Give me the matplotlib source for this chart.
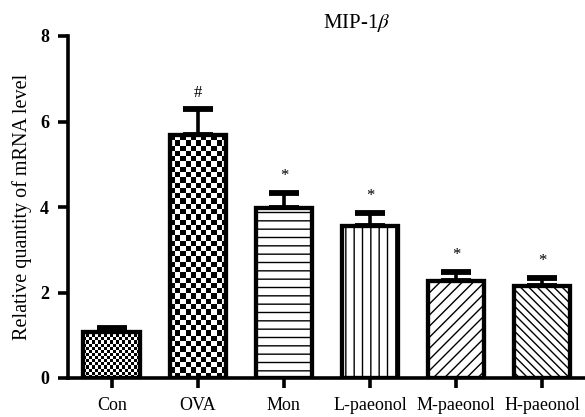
import numpy as np
import matplotlib
matplotlib.use("Agg")
import matplotlib.pyplot as plt

categories = ["Con", "OVA", "Mon", "L-paeonol", "M-paeonol", "H-paeonol"]
means = [1.08, 5.68, 3.98, 3.56, 2.27, 2.15]
errors = [0.09, 0.61, 0.35, 0.30, 0.21, 0.19]
marks = ["", "#", "*", "*", "*", "*"]
yticks = [0, 2, 4, 6, 8]

plt.rcParams['font.family'] = ['Liberation Serif', 'DejaVu Serif']
plt.rcParams['hatch.linewidth'] = 1.0
plt.rcParams['mathtext.fontset'] = 'stix'

fig = plt.figure(figsize=(5.85, 4.17), dpi=100)
ax = fig.add_axes([68/585, 1 - 378/417, (585-68)/585, (378-36)/417])
ax.set_ylim(0, 8)
ax.set_xlim(-0.51, 5.5)

x = np.arange(len(categories))
hatches = [None, None, '--', '||', '///', '\\\\\\\\']
bars = ax.bar(x, means, width=0.66, color='white', edgecolor='black',
              linewidth=3.1, zorder=2)
for b, h in zip(bars, hatches):
    if h:
        b.set_hatch(h)

fig.canvas.draw()
# checkerboard fills for Con and OVA
for idx, cell_px in [(0, 3.0), (1, 5.3)]:
    b = bars[idx]
    bb = b.get_window_extent()
    nx = max(1, int(round(bb.width / cell_px)))
    ny = max(1, int(round(bb.height / cell_px)))
    checker = (np.add.outer(np.arange(ny), np.arange(nx)) % 2).astype(float)
    im = ax.imshow(checker, cmap='gray', vmin=0, vmax=1, interpolation='nearest',
                   extent=(b.get_x(), b.get_x() + b.get_width(), 0, b.get_height()),
                   aspect='auto', zorder=1.5)
    im.set_clip_path(b)
    b.set_facecolor('none')
    b.set_zorder(3)

ax.errorbar(x, means, yerr=[np.zeros(len(errors)), errors], fmt='none',
            ecolor='black', elinewidth=2.6, capsize=10.5, capthick=4.2, zorder=1)

for xi, m, e, s in zip(x, means, errors, marks):
    if s:
        ax.text(xi, m + e + 0.2, s, ha='center', va='bottom', fontsize=12)

ax.spines['top'].set_visible(False)
ax.spines['right'].set_visible(False)
ax.spines['left'].set_linewidth(2.6)
ax.spines['bottom'].set_linewidth(2.6)
ax.set_yticks(yticks)
ax.set_yticklabels([str(t) for t in yticks], fontweight='bold', fontsize=13)
ax.set_xticks(x)
ax.set_xticklabels(categories, fontsize=13)
ax.tick_params(axis='both', direction='out', length=7.5, width=2.6)
ax.tick_params(axis='x', pad=6)
ax.tick_params(axis='y', pad=6)
ax.set_ylabel("Relative quantity of mRNA level", fontsize=14.5, labelpad=6)

fig.text(357/585, 1 - 23/417, r"MIP-1$\beta$", ha='center', va='center', fontsize=15)

fig.savefig("out.png", dpi=100)
